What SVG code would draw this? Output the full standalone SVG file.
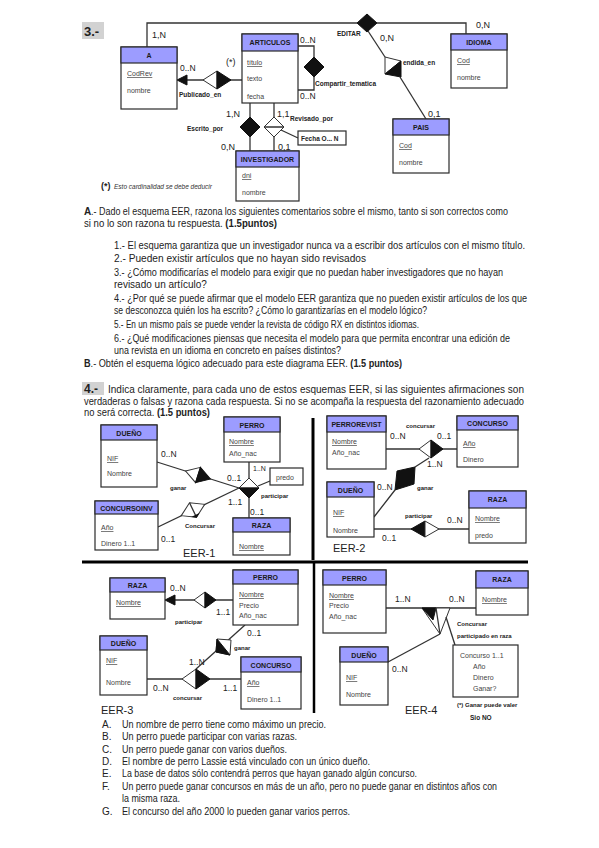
<svg xmlns="http://www.w3.org/2000/svg" width="599" height="848" viewBox="0 0 599 848">
<style>
text{font-family:"Liberation Sans",Arial,sans-serif;fill:#222}
.box{fill:#fff;stroke:#2a2a2a;stroke-width:1.2}
.hdr{fill:#9c9cff;stroke:#2a2a2a;stroke-width:1.2}
.ttl{font-size:7px;font-weight:bold;text-anchor:middle;fill:#1a1a1a}
.at{font-size:7px;fill:#444}
.u{text-decoration:underline}
.ln{stroke:#333;stroke-width:1.3;fill:none}
.blk{fill:#111;stroke:#111;stroke-width:1}
.wht{fill:#fff;stroke:#333;stroke-width:1}
.c9{font-size:9px;fill:#222}
.c8{font-size:8.5px;fill:#222}
.rl{font-size:6.5px;font-weight:bold;fill:#222}
.rs{font-size:6px;font-weight:bold;fill:#222}
.bd{font-size:10px;fill:#222}
.bb{font-size:10px;font-weight:bold;fill:#222}
.eer{font-size:11px;fill:#222}
.div{stroke:#000;fill:none}
</style>

<!-- ===== Section 3 ===== -->
<rect x="82" y="22" width="22" height="17" fill="#d2d2d2"/>
<text x="84" y="36" style="font-size:13px;font-weight:bold">3.-</text>

<g id="connectors3">
<path class="ln" d="M147,47 V23 H357"/>
<path class="ln" d="M377,23 H466 V34"/>
<polygon class="blk" points="357,23 367,14 377,23 367,32"/>
<path class="ln" d="M368,31 L385,57"/>
<path class="ln" d="M400,77 L426,119"/>
<polygon class="wht" points="385,57 401,61 385,74"/>
<polygon class="blk" points="385,74 401,61 401,77"/>
<path class="ln" d="M242,80 H186"/>
<polygon class="blk" points="177,80 187,75 187,85"/>
<polygon class="wht" points="203,80 217,71 217,89"/>
<polygon class="blk" points="217,71 231,80 217,89"/>
<path class="ln" d="M250,103 V151"/>
<polygon class="blk" points="250,117 260,127 250,137 240,127"/>
<path class="ln" d="M274,103 V151"/>
<polygon class="wht" points="274,117 284,127 274,137 264,127"/>
<path class="ln" d="M264,127 H284 M281,130 L298,138"/>
<path class="ln" d="M298,46 H314 V57 M314,77 V90 H298"/>
<polygon class="blk" points="314,57 324,67 314,77 304,67"/>
</g>

<g id="A"><rect class="box" x="121" y="47" width="56" height="62"/><rect class="hdr" x="121" y="47" width="56" height="16"/>
<text class="ttl" x="149" y="58">A</text><text class="at u" x="127" y="76">CodRev</text><text class="at" x="127" y="93">nombre</text></g>
<g id="ARTICULOS"><rect class="box" x="242" y="34" width="56" height="69"/><rect class="hdr" x="242" y="34" width="56" height="17"/>
<text class="ttl" x="270" y="45">ARTICULOS</text><text class="at u" x="247" y="65">título</text><text class="at" x="247" y="81">texto</text><text class="at" x="247" y="99">fecha</text></g>
<g id="INVESTIGADOR"><rect class="box" x="236" y="151" width="63" height="50"/><rect class="hdr" x="236" y="151" width="63" height="16"/>
<text class="ttl" x="267.5" y="162">INVESTIGADOR</text><text class="at u" x="242" y="178">dni</text><text class="at" x="242" y="195">nombre</text></g>
<g id="IDIOMA"><rect class="box" x="451" y="34" width="56" height="54"/><rect class="hdr" x="451" y="34" width="56" height="16"/>
<text class="ttl" x="479" y="45">IDIOMA</text><text class="at u" x="457" y="63">Cod</text><text class="at" x="457" y="80">nombre</text></g>
<g id="PAIS"><rect class="box" x="393" y="119" width="56" height="54"/><rect class="hdr" x="393" y="119" width="56" height="16"/>
<text class="ttl" x="421" y="130">PAIS</text><text class="at u" x="399" y="148">Cod</text><text class="at" x="399" y="165">nombre</text></g>
<g id="Fecha"><rect class="box" x="298" y="131" width="48" height="14"/><text class="rl" x="301" y="141">Fecha O... N</text></g>

<g id="labels3">
<text class="c9" x="152" y="38">1,N</text>
<text class="c8" x="180" y="71">0..N</text>
<text class="c9" x="226" y="65">(*)</text>
<text class="rl" x="179" y="97">Publicado_en</text>
<text class="c9" x="226" y="117">1,N</text>
<text class="rl" x="187" y="131">Escrito_por</text>
<text class="c9" x="221" y="150">0,N</text>
<text class="c9" x="277" y="117">1,1</text>
<text class="rl" x="290" y="121">Revisado_por</text>
<text class="c9" x="278" y="150">0,1</text>
<text class="c8" x="300" y="43">0..N</text>
<text class="c8" x="300" y="99">0..N</text>
<text class="rl" x="315" y="86">Compartir_tematica</text>
<text class="rl" x="337" y="36">EDITAR</text>
<text class="c9" x="380" y="41">0,N</text>
<text class="rl" x="403" y="65">endida_en</text>
<text class="c9" x="476" y="28">0,N</text>
<text class="c9" x="428" y="117">0,1</text>
<text x="101" y="189" style="font-size:9px;font-weight:bold">(*)</text>
<text x="114" y="189" style="font-size:6.5px;font-style:italic;fill:#333">Esto cardinalidad se debe deducir</text>
</g>

<!-- Section A text -->
<g id="textA">
<text class="bb" x="84" y="215">A</text>
<text class="bd" x="91" y="215" textLength="417" lengthAdjust="spacingAndGlyphs">.- Dado el esquema EER, razona los siguientes comentarios sobre el mismo, tanto si son correctos como</text>
<g transform="translate(84,227) scale(0.96,1)"><text class="bd" x="0" y="0">si no lo son razona tu respuesta. <tspan font-weight="bold">(1.5puntos)</tspan></text></g>
<text class="bd" x="114" y="249" textLength="411" lengthAdjust="spacingAndGlyphs">1.- El esquema  garantiza que un investigador  nunca va  a  escribir  dos artículos con el mismo título.</text>
<text class="bd" x="114" y="262" textLength="252" lengthAdjust="spacingAndGlyphs">2.- Pueden existir artículos que no hayan sido revisados</text>
<text class="bd" x="114" y="276" textLength="389" lengthAdjust="spacingAndGlyphs">3.- ¿Cómo modificarías el modelo para exigir que no puedan haber investigadores que no  hayan</text>
<text class="bd" x="114" y="288">revisado un artículo?</text>
<text class="bd" x="114" y="302" textLength="413" lengthAdjust="spacingAndGlyphs">4.-  ¿Por qué se puede afirmar que el modelo EER garantiza que no pueden existir artículos de los que</text>
<text class="bd" x="114" y="314" textLength="313" lengthAdjust="spacingAndGlyphs">se desconozca quién los ha escrito? ¿Cómo lo garantizarías en el modelo lógico?</text>
<text class="bd" x="114" y="328" textLength="305" lengthAdjust="spacingAndGlyphs">5.- En un mismo país se puede vender la revista de código RX  en distintos idiomas.</text>
<text class="bd" x="114" y="342" textLength="396" lengthAdjust="spacingAndGlyphs">6.- ¿Qué modificaciones piensas que necesita el modelo para que permita encontrar una edición de</text>
<text class="bd" x="114" y="354" textLength="227" lengthAdjust="spacingAndGlyphs">una revista en un idioma  en concreto en países distintos?</text>
<g transform="translate(84,367) scale(0.915,1)"><text class="bd" x="0" y="0"><tspan font-weight="bold">B</tspan>.- Obtén el esquema lógico adecuado para este diagrama EER. <tspan font-weight="bold">(1.5 puntos)</tspan></text></g>
</g>

<!-- Section 4 -->
<rect x="82" y="382" width="22" height="13" fill="#d2d2d2"/>
<text x="84" y="393" style="font-size:12px;font-weight:bold">4.-</text>
<g id="text4">
<text class="bd" x="108" y="393" textLength="416" lengthAdjust="spacingAndGlyphs">Indica claramente, para cada uno de estos esquemas EER, si las siguientes afirmaciones son</text>
<text class="bd" x="84" y="405" textLength="440" lengthAdjust="spacingAndGlyphs">verdaderas o falsas y razona cada respuesta. Si no se acompaña la respuesta del razonamiento adecuado</text>
<g transform="translate(84,416) scale(0.937,1)"><text class="bd" x="0" y="0">no será correcta. <tspan font-weight="bold">(1.5 puntos)</tspan></text></g>
</g>

<g id="dividers">
<path class="div" stroke-width="3" d="M313,418 V560"/>
<path class="div" stroke-width="3" d="M82,562 H528"/>
<path class="div" stroke-width="2.5" d="M314,563 V713"/>
</g>

<!-- ===== EER-1 ===== -->
<g id="connectors-eer1">
<path class="ln" d="M249,462 V478 M249,498 V518 M258,486 L270,481"/>
<polygon class="wht" points="239,488 249,478 259,488"/>
<polygon class="blk" points="239,488 249,498 259,488"/>
<path class="ln" d="M157,462 L239,488"/>
<g transform="translate(198,475) rotate(17.6)"><polygon class="wht" points="-13,0 0,-8 0,8"/><polygon class="blk" points="0,-8 13,0 0,8"/></g>
<path class="ln" d="M158,527 L239,488"/>
<g transform="translate(193,510) rotate(-25.7)"><polygon class="wht" points="-13,0 0,-8 13,0 0,8"/><path class="ln" d="M0,-8 V8"/><polygon class="blk" points="-3,6 3,6 0,8"/></g>
</g>
<g id="e1-DUENO"><rect class="box" x="101" y="425" width="56" height="62"/><rect class="hdr" x="101" y="425" width="56" height="15"/>
<text class="ttl" x="129" y="435.5">DUEÑO</text><text class="at u" x="107" y="461">NIF</text><text class="at" x="107" y="476">Nombre</text></g>
<g id="e1-PERRO"><rect class="box" x="224" y="417" width="56" height="45"/><rect class="hdr" x="224" y="417" width="56" height="15"/>
<text class="ttl" x="252" y="427.5">PERRO</text><text class="at u" x="229" y="444">Nombre</text><text class="at" x="229" y="456">Año_nac</text></g>
<g id="e1-precio"><rect class="box" x="270" y="468" width="33" height="17"/><text class="at" x="276" y="480">predo</text></g>
<g id="e1-CONCURSOINV"><rect class="box" x="95" y="501" width="63" height="49"/><rect class="hdr" x="95" y="501" width="63" height="13"/>
<text class="ttl" x="126.5" y="510.5">CONCURSOINV</text><text class="at u" x="101" y="530">Año</text><text class="at" x="101" y="546">Dinero 1..1</text></g>
<g id="e1-RAZA"><rect class="box" x="233" y="518" width="57" height="37"/><rect class="hdr" x="233" y="518" width="57" height="14"/>
<text class="ttl" x="261.5" y="528">RAZA</text><text class="at u" x="239" y="549">Nombre</text></g>
<g id="labels-eer1">
<text class="c8" x="161" y="457">0..N</text>
<text class="rs" x="170" y="490">ganar</text>
<text class="c8" x="227" y="481">0..1</text>
<text class="at" x="253" y="471" style="fill:#222">1..N</text>
<text class="c8" x="228" y="505">1..1</text>
<text class="rs" x="261" y="498">participar</text>
<text class="c8" x="250" y="515">0..1</text>
<text class="rs" x="185" y="528">Concursar</text>
<text class="c8" x="161" y="542">0..1</text>
<text class="eer" x="183" y="557">EER-1</text>
</g>

<!-- ===== EER-2 ===== -->
<g id="connectors-eer2">
<path class="ln" d="M386,449 H457"/>
<polygon class="wht" points="419,449 431,440 431,458"/>
<polygon class="blk" points="431,440 443,449 431,458"/>
<path class="ln" d="M374,517 L395,490 M415,467 L429,458"/>
<polygon class="blk" points="397,471 415,467 414,484 395,490"/>
<path class="ln" d="M374,529 H469"/>
<polygon class="blk" points="411,529 425,521 425,537"/>
<polygon class="wht" points="425,521 439,529 425,537"/>
</g>
<g id="e2-PERROREVIST"><rect class="box" x="327" y="416" width="59" height="53"/><rect class="hdr" x="327" y="416" width="59" height="16"/>
<text class="ttl" x="356.5" y="427">PERROREVIST</text><text class="at u" x="332" y="444">Nombre</text><text class="at" x="332" y="455">Año_nac</text></g>
<g id="e2-CONCURSO"><rect class="box" x="457" y="416" width="61" height="51"/><rect class="hdr" x="457" y="416" width="61" height="14"/>
<text class="ttl" x="487.5" y="426">CONCURSO</text><text class="at u" x="463" y="446">Año</text><text class="at" x="463" y="462">Dinero</text></g>
<g id="e2-DUENO"><rect class="box" x="327" y="482" width="47" height="55"/><rect class="hdr" x="327" y="482" width="47" height="15"/>
<text class="ttl" x="350.5" y="492.5">DUEÑO</text><text class="at u" x="333" y="515">NIF</text><text class="at" x="333" y="533">Nombre</text></g>
<g id="e2-RAZA"><rect class="box" x="469" y="491" width="57" height="52"/><rect class="hdr" x="469" y="491" width="57" height="17"/>
<text class="ttl" x="497.5" y="502">RAZA</text><text class="at u" x="475" y="521">Nombre</text><text class="at" x="475" y="538">predo</text></g>
<g id="labels-eer2">
<text class="rs" x="406" y="428">concursar</text>
<text class="c8" x="390" y="439">0..N</text>
<text class="c8" x="437" y="439">0..1</text>
<text class="c8" x="427" y="467">1..N</text>
<text class="c8" x="377" y="490">0..N</text>
<text class="rs" x="417" y="490">ganar</text>
<text class="rs" x="405" y="518">participar</text>
<text class="c8" x="447" y="523">0..N</text>
<text class="c8" x="382" y="541">0..1</text>
<text class="eer" x="333" y="552">EER-2</text>
</g>

<!-- ===== EER-3 ===== -->
<g id="connectors-eer3">
<path class="ln" d="M233,600 H175"/>
<polygon class="blk" points="165,600 175,595 175,605"/>
<polygon class="wht" points="194,600 205,592 205,608"/>
<polygon class="blk" points="205,592 216,600 205,608"/>
<path class="ln" d="M245,625 L196,669"/>
<polygon class="wht" points="217,639 231,640 230,655 216,652"/>
<polygon class="blk" points="217,639 230,655 216,652"/>
<path class="ln" d="M147,679 H241"/>
<polygon class="wht" points="182,679 196,669 196,689"/>
<polygon class="blk" points="196,669 210,679 196,689"/>
</g>
<g id="e3-RAZA"><rect class="box" x="110" y="578" width="55" height="41"/><rect class="hdr" x="110" y="578" width="55" height="14"/>
<text class="ttl" x="137.5" y="588">RAZA</text><text class="at u" x="116" y="605">Nombre</text></g>
<g id="e3-PERRO"><rect class="box" x="233" y="570" width="65" height="55"/><rect class="hdr" x="233" y="570" width="65" height="14"/>
<text class="ttl" x="265.5" y="580">PERRO</text><text class="at u" x="239" y="597">Nombre</text><text class="at" x="239" y="608">Precio</text><text class="at" x="239" y="618">Año_nac</text></g>
<g id="e3-DUENO"><rect class="box" x="100" y="636" width="47" height="59"/><rect class="hdr" x="100" y="636" width="47" height="14"/>
<text class="ttl" x="123.5" y="646">DUEÑO</text><text class="at u" x="106" y="663">NIF</text><text class="at" x="106" y="685">Nombre</text></g>
<g id="e3-CONCURSO"><rect class="box" x="241" y="657" width="60" height="52"/><rect class="hdr" x="241" y="657" width="60" height="15"/>
<text class="ttl" x="271" y="667.5">CONCURSO</text><text class="at u" x="247" y="685">Año</text><text class="at" x="247" y="702">Dinero 1..1</text></g>
<g id="labels-eer3">
<text class="c8" x="170" y="591">0..N</text>
<text class="c8" x="216" y="615">1..1</text>
<text class="rs" x="175" y="624">participar</text>
<text class="c8" x="247" y="636">0..1</text>
<text class="rs" x="234" y="650">ganar</text>
<text class="c8" x="189" y="665">1..N</text>
<text class="c8" x="153" y="691">0..N</text>
<text class="c8" x="223" y="691">1..1</text>
<text class="rs" x="173" y="700">concursar</text>
<text class="eer" x="101" y="714">EER-3</text>
</g>

<!-- ===== EER-4 ===== -->
<g id="connectors-eer4">
<path class="ln" d="M386,608 H476"/>
<polygon class="wht" points="422,608 450,608 440,634"/>
<polygon class="blk" points="422,608 436,608 433,620"/>
<path class="ln" d="M436,608 L440,634"/>
<path class="ln" d="M446,617 L455,645"/>
<path class="ln" d="M388,662 L440,634"/>
</g>
<g id="e4-PERRO"><rect class="box" x="323" y="570" width="63" height="63"/><rect class="hdr" x="323" y="570" width="63" height="15"/>
<text class="ttl" x="354.5" y="580.5">PERRO</text><text class="at u" x="329" y="598">Nombre</text><text class="at" x="329" y="608">Precio</text><text class="at" x="329" y="619">Año_nac</text></g>
<g id="e4-RAZA"><rect class="box" x="476" y="571" width="52" height="44"/><rect class="hdr" x="476" y="571" width="52" height="17"/>
<text class="ttl" x="502" y="582">RAZA</text><text class="at u" x="482" y="602">Nombre</text></g>
<g id="e4-DUENO"><rect class="box" x="340" y="647" width="48" height="58"/><rect class="hdr" x="340" y="647" width="48" height="15"/>
<text class="ttl" x="364" y="657.5">DUEÑO</text><text class="at u" x="346" y="680">NIF</text><text class="at" x="346" y="697">Nombre</text></g>
<g id="e4-attrs"><rect class="box" x="453" y="645" width="65" height="52"/>
<text class="at" x="460" y="658">Concurso 1..1</text><text class="at" x="473" y="669">Año</text><text class="at" x="473" y="680">Dinero</text><text class="at" x="473" y="691">Ganar?</text></g>
<g id="labels-eer4">
<text class="c8" x="395" y="602">1..N</text>
<text class="c8" x="449" y="602">0..N</text>
<text class="c8" x="392" y="672">0..N</text>
<text class="rs" x="457" y="626">Concursar</text>
<text class="rs" x="457" y="638">participado en raza</text>
<text class="eer" x="405" y="714">EER-4</text>
<text class="rs" x="457" y="707">(*) Ganar puede valer</text>
<text class="rl" x="470" y="720">Sio NO</text>
</g>

<!-- bottom list -->
<g id="list">
<text class="bd" x="102" y="728">A.</text><text class="bd" x="122" y="728" textLength="204" lengthAdjust="spacingAndGlyphs">Un nombre de perro tiene como máximo un precio.</text>
<text class="bd" x="102" y="740">B.</text><text class="bd" x="122" y="740" textLength="175" lengthAdjust="spacingAndGlyphs">Un perro puede participar con varias razas.</text>
<text class="bd" x="102" y="753">C.</text><text class="bd" x="122" y="753" textLength="165" lengthAdjust="spacingAndGlyphs">Un perro puede ganar con varios dueños.</text>
<text class="bd" x="102" y="765">D.</text><text class="bd" x="122" y="765" textLength="248" lengthAdjust="spacingAndGlyphs">El nombre de perro Lassie está vinculado con un único dueño.</text>
<text class="bd" x="102" y="777">E.</text><text class="bd" x="122" y="777" textLength="295" lengthAdjust="spacingAndGlyphs">La base de datos sólo contendrá perros  que hayan ganado algún concurso.</text>
<text class="bd" x="102" y="790">F.</text><text class="bd" x="122" y="790" textLength="375" lengthAdjust="spacingAndGlyphs">Un perro puede ganar concursos en más de un año, pero no puede ganar en distintos  años con</text>
<text class="bd" x="122" y="802" textLength="58" lengthAdjust="spacingAndGlyphs">la misma raza.</text>
<text class="bd" x="102" y="815">G.</text><text class="bd" x="122" y="815" textLength="228" lengthAdjust="spacingAndGlyphs">El concurso del año 2000 lo pueden ganar varios perros.</text>
</g>
</svg>
